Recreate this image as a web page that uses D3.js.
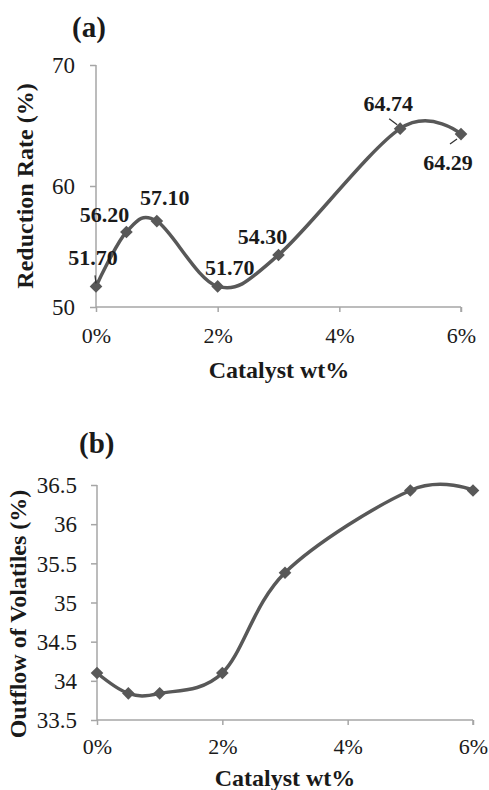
<!DOCTYPE html>
<html lang="en">
<head>
<meta charset="UTF-8">
<title>Catalyst charts</title>
<script src="https://cdn.jsdelivr.net/npm/d3@7"></script>
<style>
    body { margin:0; background:#fff; }
    svg text { font-family:"Liberation Serif","Times New Roman",serif; fill:#1a1a1a; }
    .lbl { font-size:22px; font-weight:bold; }
    .title { font-weight:bold; }
</style>
</head>
<body>
<svg width="489" height="790"></svg>
<script>
    // catalyst loadings (wt%)
    var catalyst = [0, 0.5, 1, 2, 3, 5, 6];
    // (a) reduction rate
    var reductionRate = [51.70, 56.20, 57.10, 51.70, 54.30, 64.74, 64.29];
    var reductionLabels = ["51.70", "56.20", "57.10", "51.70", "54.30", "64.74", "64.29"];
    // (b) outflow of volatiles
    var outflow = [34.10, 33.84, 33.84, 34.10, 35.38, 36.43, 36.43];
    var xTicks = [0, 2, 4, 6];
    var yTicksA = [50, 60, 70];
    var yTicksB = [33.5, 34, 34.5, 35, 35.5, 36, 36.5];

    var svg = d3.select("svg");
    var axisColor = "#a6a6a6", lineColor = "#585858";

    function panel(o) {
        var x = d3.scaleLinear().domain([0, 6]).range([o.left, o.right]);
        var y = d3.scaleLinear().domain(o.yDomain).range([o.bottom, o.top]);
        var g = svg.append("g");

        var gx = g.append("g")
            .attr("transform", "translate(0," + o.bottom + ")")
            .call(d3.axisBottom(x).tickValues(xTicks).tickSize(5).tickPadding(o.xPad)
                .tickFormat(function (d) { return d + "%"; }));
        var gy = g.append("g")
            .attr("transform", "translate(" + o.left + ",0)")
            .call(d3.axisLeft(y).tickValues(o.yTicks).tickSize(6).tickPadding(o.yPad)
                .tickFormat(function (d) { return String(d); }));
        [gx, gy].forEach(function (a) {
            a.selectAll("path,line").attr("stroke", axisColor).attr("stroke-width", 1.5);
            a.select(".domain").attr("d", a === gx
                ? "M" + o.left + ",0H" + o.right + "M" + o.right + ",0V5"
                : "M0," + o.bottom + "V" + o.top);
            a.selectAll("text").attr("fill", "#1a1a1a")
                .style("font-family", "Liberation Serif");
        });
        gx.selectAll(".tick text").style("font-size", "22px");
        gy.selectAll(".tick text").style("font-size", "23px").attr("dy", "0.34em");

        var line = d3.line()
            .x(function (d, i) { return x(catalyst[i]); })
            .y(function (d) { return y(d); })
            .curve(d3.curveCardinal.tension(0));
        g.append("path")
            .datum(o.values)
            .attr("d", line)
            .attr("fill", "none")
            .attr("stroke", lineColor)
            .attr("stroke-width", 3.5);

        g.selectAll("path.mk")
            .data(o.values)
            .enter()
            .append("path")
            .attr("class", "mk")
            .attr("d", d3.symbol(d3.symbolSquare, 80))
            .attr("fill", lineColor)
            .attr("transform", function (d, i) {
                return "translate(" + x(catalyst[i]) + "," + y(d) + ") rotate(45)";
            });

        // panel letter and axis titles
        g.append("text").attr("class", "title")
            .attr("x", o.letterX).attr("y", o.letterY)
            .style("font-size", "29px").text(o.letter);
        g.append("text").attr("class", "title")
            .attr("x", o.xTitleX).attr("y", o.xTitleY)
            .attr("text-anchor", "middle").style("font-size", "24px")
            .text("Catalyst wt%");
        g.append("text").attr("class", "title")
            .attr("transform", "translate(" + o.yTitleX + "," + o.yTitleY + ") rotate(-90)")
            .attr("text-anchor", "middle").style("font-size", "24px")
            .text(o.yTitle);

        return {x: x, y: y, g: g};
    }

    var a = panel({
        left: 96, right: 461, top: 65, bottom: 307,
        yDomain: [50, 70], yTicks: yTicksA, xPad: 15, yPad: 15,
        letter: "(a)", letterX: 72, letterY: 37,
        xTitleX: 279, xTitleY: 378, yTitleX: 33, yTitleY: 186,
        yTitle: "Reduction  Rate (%)", values: reductionRate
    });

    // data labels for (a), offsets (x centre, baseline) from each point
    var labelOff = [[-3, -21], [-22, -10], [8, -16], [12, -11], [-16, -11], [-12, -18], [-13, 36]];
    a.g.selectAll("text.lbl")
        .data(reductionRate)
        .enter()
        .append("text")
        .attr("class", "lbl")
        .attr("text-anchor", "middle")
        .attr("x", function (d, i) { return a.x(catalyst[i]) + labelOff[i][0]; })
        .attr("y", function (d, i) { return a.y(d) + labelOff[i][1]; })
        .text(function (d, i) { return reductionLabels[i]; });

    // leader lines for labels placed away from their points
    var leaders = [[0, -1, -11, 0, -3], [5, -11, -10, -3, -4], [6, -11, 10, -4, 5]];
    a.g.selectAll("line.ld")
        .data(leaders)
        .enter()
        .append("line")
        .attr("stroke", "#333").attr("stroke-width", 1.3)
        .attr("x1", function (d) { return a.x(catalyst[d[0]]) + d[1]; })
        .attr("y1", function (d) { return a.y(reductionRate[d[0]]) + d[2]; })
        .attr("x2", function (d) { return a.x(catalyst[d[0]]) + d[3]; })
        .attr("y2", function (d) { return a.y(reductionRate[d[0]]) + d[4]; });

    panel({
        left: 97, right: 473, top: 485, bottom: 720,
        yDomain: [33.5, 36.5], yTicks: yTicksB, xPad: 13, yPad: 14,
        letter: "(b)", letterX: 79, letterY: 453,
        xTitleX: 285, xTitleY: 786, yTitleX: 26, yTitleY: 614,
        yTitle: "Outflow of Volatiles (%)", values: outflow
    });
</script>
</body>
</html>
